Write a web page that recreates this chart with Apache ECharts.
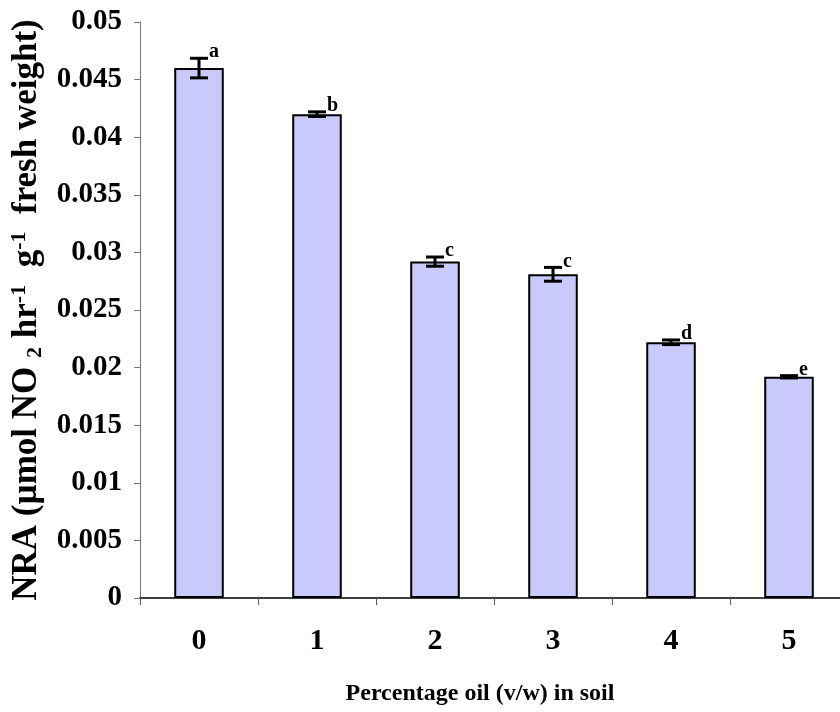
<!DOCTYPE html>
<html>
<head>
<meta charset="utf-8">
<style>
  html, body { margin: 0; padding: 0; background: #ffffff; }
  #chart { width: 840px; height: 712px; }
</style>
<script src="https://cdn.jsdelivr.net/npm/echarts@6/dist/echarts.min.js"></script>
</head>
<body>
<div id="chart"></div>
<script>
// Nitrate reductase activity by oil percentage in soil
const categories = ['0', '1', '2', '3', '4', '5'];
const nraMeans = [0.046, 0.042, 0.0292, 0.0281, 0.0222, 0.0192];
const nraErrors = [0.00085, 0.0002, 0.0004, 0.0006, 0.0002, 0.0001];
const groupLetters = ['a', 'b', 'c', 'c', 'd', 'e'];
const yTicks = { min: 0, max: 0.05, interval: 0.005 };

const serif = '"Liberation Serif", "Times New Roman", serif';

const chart = echarts.init(document.getElementById('chart'), null, { renderer: 'canvas' });

const errorData = nraMeans.map((m, i) => [i, m - nraErrors[i], m + nraErrors[i], groupLetters[i]]);

function renderError(params, api) {
  const x = api.coord([api.value(0), 0])[0];
  const lo = api.coord([api.value(0), api.value(1)])[1];
  const hi = api.coord([api.value(0), api.value(2)])[1];
  const half = 9;
  const style = { stroke: '#000', lineWidth: 3 };
  return {
    type: 'group',
    children: [
      { type: 'line', shape: { x1: x, y1: lo, x2: x, y2: hi }, style },
      { type: 'line', shape: { x1: x - half, y1: hi, x2: x + half, y2: hi }, style },
      { type: 'line', shape: { x1: x - half, y1: lo, x2: x + half, y2: lo }, style },
      {
        type: 'text',
        x: x + half + 1,
        y: hi + 4,
        style: {
          text: api.value(3),
          font: 'bold 20px ' + serif,
          fill: '#000',
          textAlign: 'left',
          textVerticalAlign: 'bottom'
        }
      }
    ]
  };
}

const nameFont = { fontFamily: serif, fontWeight: 'bold', color: '#000' };

const option = {
  animation: false,
  backgroundColor: '#ffffff',
  grid: { left: 140, top: 22, width: 708, height: 576, containLabel: false, outerBoundsMode: 'none' },
  xAxis: {
    type: 'category',
    data: categories,
    name: 'Percentage oil (v/w) in soil',
    nameLocation: 'middle',
    nameGap: 84,
    nameTextStyle: Object.assign({ fontSize: 24, padding: [0, 28, 0, 0] }, nameFont),
    axisLine: { lineStyle: { color: '#000', width: 1.5 } },
    axisTick: { show: true, length: 7, lineStyle: { color: '#555', width: 1 } },
    axisLabel: Object.assign({ margin: 28, fontSize: 30 }, nameFont),
    splitLine: { show: false }
  },
  yAxis: {
    type: 'value',
    min: yTicks.min,
    max: yTicks.max,
    interval: yTicks.interval,
    name: '{t|NRA (µmol NO }{sub|2}{t| hr}{sup|-1}{t|  g}{sup|-1}{t|  fresh weight)}',
    nameLocation: 'middle',
    nameRotate: 90,
    nameGap: 90,
    nameTextStyle: {
      rich: {
        t: Object.assign({ fontSize: 35, lineHeight: 38 }, nameFont),
        sup: Object.assign({ fontSize: 22, lineHeight: 38, verticalAlign: 'top' }, nameFont),
        sub: Object.assign({ fontSize: 22, lineHeight: 38, verticalAlign: 'bottom' }, nameFont)
      }
    },
    axisLine: { show: true, lineStyle: { color: '#777', width: 1 } },
    axisTick: { show: true, length: 6, lineStyle: { color: '#777', width: 1 } },
    axisLabel: Object.assign({
      margin: 18,
      fontSize: 29,
      formatter: v => String(parseFloat(v.toFixed(3)))
    }, nameFont),
    splitLine: { show: false }
  },
  series: [
    {
      type: 'bar',
      data: nraMeans,
      barWidth: '42%',
      itemStyle: { color: '#c9c9fb', borderColor: '#000', borderWidth: 2 },
      z: 2
    },
    {
      type: 'custom',
      data: errorData,
      renderItem: renderError,
      encode: { x: 0, y: [1, 2] },
      z: 3
    }
  ]
};

chart.setOption(option);
</script>
</body>
</html>
